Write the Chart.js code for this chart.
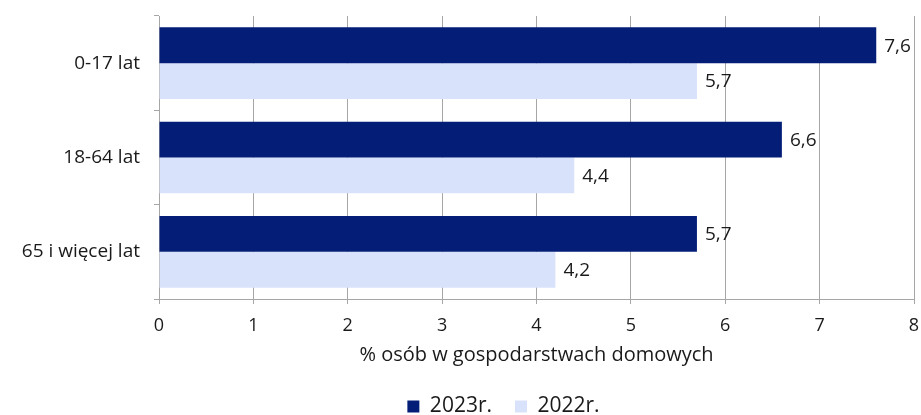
<!DOCTYPE html>
<html>
<head>
<meta charset="utf-8">
<script src="https://cdn.jsdelivr.net/npm/chart.js@4.4.0/dist/chart.umd.min.js"></script>
<style>
  html, body { margin: 0; padding: 0; background: #fff; }
  #wrap { width: 921px; height: 415px; }
</style>
</head>
<body>
<div id="wrap"><canvas id="povertyChart"></canvas></div>
<script>
let categories = ["0-17 lat", "18-64 lat", "65 i więcej lat"];
let values2023 = [7.6, 6.6, 5.7];
let values2022 = [5.7, 4.4, 4.2];
let xTicks = [0, 1, 2, 3, 4, 5, 6, 7, 8];

const fontFamily = "'Open Sans', 'Noto Sans', sans-serif";
const gridGray = "#a6a6a6";
const textColor = "#1a1a1a";

// labels drawn just past the end of each bar
const barValueLabels = {
   id: "barValueLabels",
   afterDatasetsDraw(chart) {
      const ctx = chart.ctx;
      ctx.save();
      ctx.font = "19px " + fontFamily;
      ctx.fillStyle = textColor;
      ctx.textAlign = "left";
      ctx.textBaseline = "middle";
      chart.data.datasets.forEach((ds, i) => {
         chart.getDatasetMeta(i).data.forEach((bar, j) => {
            ctx.fillText(String(ds.data[j]).replace(".", ","), bar.x + 8, bar.y + 1);
         });
      });
      ctx.restore();
   },
};

// nudge the legend a bit right and down, like in the original
const legendNudge = {
   id: "legendNudge",
   afterLayout(chart) {
      const lg = chart.legend;
      lg.left += 43;
      lg.right += 43;
      lg.top += 12;
      lg.bottom += 12;
   },
};

const ctx = document.getElementById("povertyChart").getContext("2d");
const myChart = new Chart(ctx, {
   type: "bar",
   data: {
      labels: categories,
      datasets: [
         {
            label: "2023r.",
            data: values2023,
            backgroundColor: "#041e78",
            borderWidth: 0,
            categoryPercentage: 0.76,
            barPercentage: 1,
         },
         {
            label: "2022r.",
            data: values2022,
            backgroundColor: "#d9e2fb",
            borderWidth: 0,
            categoryPercentage: 0.76,
            barPercentage: 1,
         },
      ],
   },
   options: {
      indexAxis: "y",
      responsive: true,
      maintainAspectRatio: false,
      animation: false,
      layout: {
         padding: {top: 16, right: 0, left: 0, bottom: 0},
      },
      scales: {
         x: {
            min: 0,
            max: 8,
            afterBuildTicks: (scale) => {
               scale.ticks = xTicks.map((v) => ({value: v}));
            },
            afterFit: (scale) => {
               scale.height = 415 - 299 - scale.chart.legend.height;
               scale.paddingRight = 7;
            },
            grid: {
               color: gridGray,
               lineWidth: 1,
               tickLength: 5,
            },
            border: {color: gridGray},
            ticks: {
               color: textColor,
               padding: 11,
               font: {size: 18, family: fontFamily},
            },
            title: {
               display: true,
               text: "% osób w gospodarstwach domowych",
               color: textColor,
               padding: {top: 0, bottom: -6},
               font: {size: 20, family: fontFamily},
            },
         },
         y: {
            afterFit: (scale) => {
               scale.width = 159;
               scale.paddingTop = 0;
               scale.paddingBottom = 0;
            },
            grid: {
               drawOnChartArea: false,
               color: gridGray,
               tickLength: 5,
            },
            border: {color: gridGray},
            ticks: {
               color: textColor,
               padding: 14,
               font: {size: 19, family: fontFamily},
            },
         },
      },
      plugins: {
         legend: {
            display: true,
            position: "bottom",
            labels: {
               color: textColor,
               boxWidth: 12,
               boxHeight: 12,
               padding: 23,
               font: {size: 21, family: fontFamily},
            },
         },
         tooltip: {enabled: false},
      },
   },
   plugins: [barValueLabels, legendNudge],
});
</script>
</body>
</html>
